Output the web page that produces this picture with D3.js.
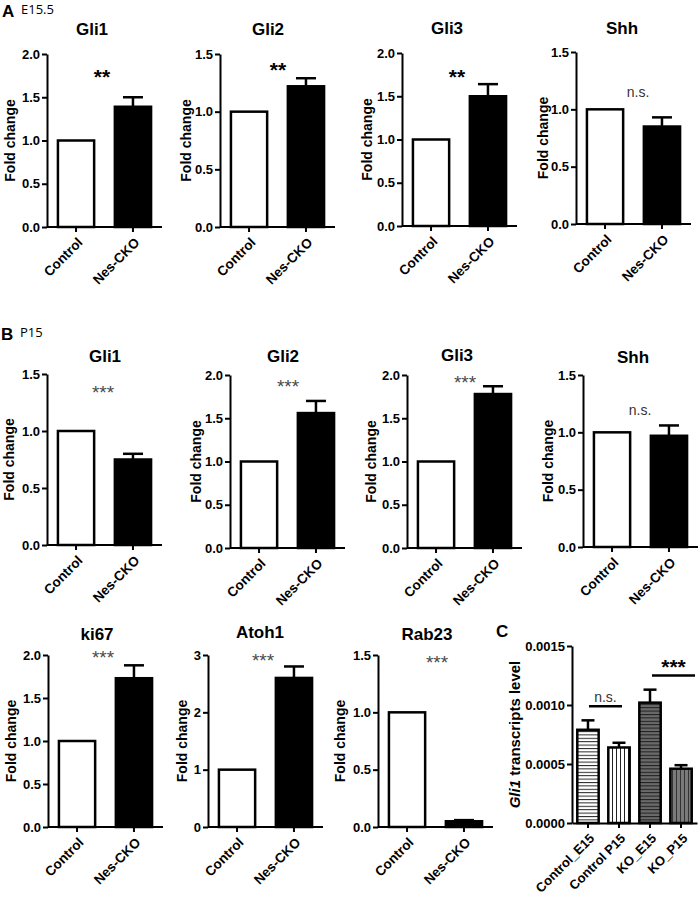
<!DOCTYPE html>
<html><head><meta charset="utf-8">
<script src="https://cdn.jsdelivr.net/npm/d3@7"></script>
<style>
body{margin:0;background:#fff}
svg{display:block}
text{font-family:"Liberation Sans",Arial,sans-serif}
</style>
</head><body>
<svg id="c" width="700" height="898"></svg>
<script>
// ---------- DATA ----------
const groups = ["Control", "Nes-CKO"];

const genesA   = ["Gli1", "Gli2", "Gli3", "Shh"];
const controlA = [1.0, 1.0, 1.0, 1.0];
const nesA     = [1.39, 1.22, 1.50, 0.85];
const nesErrA  = [0.11, 0.07, 0.14, 0.08];
const yMaxA    = [2.0, 1.5, 2.0, 1.5];
const yStepA   = [0.5, 0.5, 0.5, 0.5];
const sigA     = ["**", "**", "**", "n.s."];

const genesB   = ["Gli1", "Gli2", "Gli3", "Shh", "ki67", "Atoh1", "Rab23"];
const controlB = [1.0, 1.0, 1.0, 1.0, 1.0, 1.0, 1.0];
const nesB     = [0.75, 1.56, 1.78, 0.97, 1.73, 2.60, 0.05];
const nesErrB  = [0.05, 0.14, 0.09, 0.09, 0.15, 0.20, 0.01];
const yMaxB    = [1.5, 2.0, 2.0, 1.5, 2.0, 3, 1.5];
const yStepB   = [0.5, 0.5, 0.5, 0.5, 0.5, 1, 0.5];
const sigB     = ["***", "***", "***", "n.s.", "***", "***", "***"];

const groupsC  = ["Control_E15", "Control P15", "KO_E15", "KO_P15"];
const valuesC  = [0.00079, 0.00064, 0.00102, 0.00046];
const errC     = [0.00008, 0.00004, 0.00011, 0.00003];
const yTicksC  = [0, 0.0005, 0.0010, 0.0015];
const sigPairsC  = [[0, 1], [2, 3]];
const sigLabelsC = ["n.s.", "***"];
const sigLevelsC = [0.00099, 0.00125];

// ---------- LAYOUT (positions only) ----------
const layA = [
  {x0: 47,  yTop: 54, yBot: 227, tx: 92,  ty: 35, lx: 10,  sx: 102, sy: 71.5},
  {x0: 220, yTop: 54, yBot: 227, tx: 268, ty: 35, lx: 186, sx: 278, sy: 64},
  {x0: 402, yTop: 53, yBot: 226, tx: 447, ty: 34, lx: 367, sx: 457, sy: 71},
  {x0: 576, yTop: 52, yBot: 224, tx: 622, ty: 34, lx: 543, sx: 638, sy: 93}
];
const layB = [
  {x0: 47,  yTop: 374, yBot: 545, tx: 105, ty: 362, lx: 9,   sx: 103, sy: 388},
  {x0: 230, yTop: 375, yBot: 548, tx: 283, ty: 362, lx: 196, sx: 288, sy: 382},
  {x0: 407, yTop: 375, yBot: 548, tx: 457, ty: 361, lx: 371, sx: 465, sy: 378},
  {x0: 583, yTop: 375, yBot: 547, tx: 633, ty: 363, lx: 548, sx: 640, sy: 411},
  {x0: 48,  yTop: 655, yBot: 827, tx: 97,  ty: 640, lx: 11,  sx: 103, sy: 653},
  {x0: 208, yTop: 655, yBot: 827, tx: 260, ty: 638, lx: 182, sx: 263, sy: 656},
  {x0: 378, yTop: 655, yBot: 827, tx: 427, ty: 640, lx: 340, sx: 437, sy: 658}
];
const AXW = 115;

const svg = d3.select("#c");
svg.append("rect").attr("width", 700).attr("height", 898).attr("fill", "#fff");

function styleAxis(ax) {
  ax.select(".domain").attr("stroke", "#000").attr("stroke-width", 2);
  ax.selectAll(".tick line").attr("stroke", "#000").attr("stroke-width", 2);
  ax.selectAll(".tick text").attr("fill", "#000")
    .style("font-family", '"Liberation Sans",Arial,sans-serif')
    .style("font-weight", "bold").style("font-size", "13px");
}

function sigText(g, label, cx, cy, style) {
  const star = label.indexOf("*") >= 0;
  let fs, fw, fill;
  if (!star) { fs = 14; fw = "normal"; fill = "#333"; }
  else if (style === "bold") { fs = 21; fw = "bold"; fill = "#000"; }
  else { fs = 19; fw = "normal"; fill = "#4a4a4a"; }
  const base = star ? cy + 0.6 * fs : cy + 0.27 * fs;
  g.append("text").attr("x", cx).attr("y", base).attr("text-anchor", "middle")
    .style("font-size", fs + "px").style("font-weight", fw).attr("fill", fill)
    .text(label);
}

function barChart(gene, ctrl, nes, err, yMax, step, sig, L, sigStyle) {
  const g = svg.append("g");
  const x = d3.scaleBand().domain(groups).range([L.x0, L.x0 + AXW])
    .paddingInner(0.32).paddingOuter(0.17);
  const y = d3.scaleLinear().domain([0, yMax]).range([L.yBot, L.yTop]);
  const ticks = d3.range(0, yMax + step / 2, step);
  const fmt = step < 1 ? d3.format(".1f") : d3.format("d");
  const vals = [ctrl, nes];

  g.selectAll("rect.bar").data(groups).join("rect").attr("class", "bar")
    .attr("x", d => x(d) + 1.25).attr("width", x.bandwidth() - 2.5)
    .attr("y", (d, i) => y(vals[i])).attr("height", (d, i) => L.yBot - y(vals[i]))
    .attr("fill", (d, i) => i === 0 ? "#fff" : "#000")
    .attr("stroke", "#000").attr("stroke-width", 2.5);

  const cx = x(groups[1]) + x.bandwidth() / 2;
  g.append("line").attr("x1", cx).attr("x2", cx)
    .attr("y1", y(nes)).attr("y2", y(nes + err))
    .attr("stroke", "#000").attr("stroke-width", 2.5);
  g.append("line").attr("x1", cx - 10).attr("x2", cx + 10)
    .attr("y1", y(nes + err)).attr("y2", y(nes + err))
    .attr("stroke", "#000").attr("stroke-width", 2.5);

  const ya = g.append("g").attr("transform", `translate(${L.x0},0)`)
    .call(d3.axisLeft(y).tickValues(ticks).tickFormat(fmt).tickSize(5).tickSizeOuter(0).tickPadding(2));
  styleAxis(ya);
  const xa = g.append("g").attr("transform", `translate(0,${L.yBot})`)
    .call(d3.axisBottom(x).tickSize(5).tickSizeOuter(0));
  styleAxis(xa);
  xa.select(".domain").attr("d", `M${L.x0},0H${L.x0 + AXW}`);
  xa.selectAll(".tick text").attr("x", 0).attr("y", 0).attr("dy", "0.35em")
    .style("font-size", "13.5px")
    .attr("text-anchor", "end").attr("transform", "translate(4,13) rotate(-45)");

  g.append("text").attr("x", L.tx).attr("y", L.ty).attr("text-anchor", "middle")
    .style("font-size", "17px").style("font-weight", "bold").text(gene);
  g.append("text").attr("transform", `translate(${L.lx},${(L.yTop + L.yBot) / 2}) rotate(-90)`)
    .attr("text-anchor", "middle").attr("dy", "0.35em")
    .style("font-size", "14px").style("font-weight", "bold").text("Fold change");
  sigText(g, sig, L.sx, L.sy, sigStyle);
}

genesA.forEach((gname, i) => barChart(gname, controlA[i], nesA[i], nesErrA[i], yMaxA[i], yStepA[i], sigA[i], layA[i], "bold"));
genesB.forEach((gname, i) => barChart(gname, controlB[i], nesB[i], nesErrB[i], yMaxB[i], yStepB[i], sigB[i], layB[i], "light"));

function panelLabel(letter, sub, x, y) {
  svg.append("text").attr("x", x).attr("y", y).style("font-size", "17px")
    .style("font-weight", "bold").text(letter);
  if (sub) svg.append("text").attr("x", x + 19).attr("y", y - 3)
    .style("font-family", '"Open Sans",sans-serif').style("font-size", "13px").text(sub);
}
panelLabel("A", "E15.5", 2, 17);
panelLabel("B", "P15", 1, 340);
panelLabel("C", null, 496, 637);

// ---------- PANEL C ----------
const defs = svg.append("defs");
function stripes(id, bg, fg, horiz, sp) {
  const p = defs.append("pattern").attr("id", id).attr("patternUnits", "userSpaceOnUse")
    .attr("width", horiz ? 8 : sp).attr("height", horiz ? sp : 8);
  p.append("rect").attr("width", 8).attr("height", 8).attr("fill", bg);
  if (horiz) p.append("line").attr("x1", 0).attr("x2", 8).attr("y1", 0.5).attr("y2", 0.5).attr("stroke", fg).attr("stroke-width", 1);
  else p.append("line").attr("y1", 0).attr("y2", 8).attr("x1", 0.5).attr("x2", 0.5).attr("stroke", fg).attr("stroke-width", 1);
}
stripes("pC0", "#fff", "#222", true, 3.4);
stripes("pC1", "#fff", "#222", false, 4);
stripes("pC2", "#6a6a6a", "#1e1e1e", true, 3.4);
stripes("pC3", "#7a7a7a", "#333", false, 4);

const LC = {x0: 572, x1: 697, yTop: 646, yBot: 823};
const gc = svg.append("g");
const xc = d3.scaleBand().domain(groupsC).range([LC.x0, LC.x1]).paddingInner(0.23).paddingOuter(0.13);
const yc = d3.scaleLinear().domain([0, 0.0015]).range([LC.yBot, LC.yTop]);

gc.selectAll("rect.cb").data(groupsC).join("rect").attr("class", "cb")
  .attr("x", d => xc(d) + 1.25).attr("width", xc.bandwidth() - 2.5)
  .attr("y", (d, i) => yc(valuesC[i])).attr("height", (d, i) => LC.yBot - yc(valuesC[i]))
  .attr("fill", (d, i) => `url(#pC${i})`).attr("stroke", "#000").attr("stroke-width", 2.5);
groupsC.forEach((d, i) => {
  const cx = xc(d) + xc.bandwidth() / 2;
  gc.append("line").attr("x1", cx).attr("x2", cx).attr("y1", yc(valuesC[i])).attr("y2", yc(valuesC[i] + errC[i]))
    .attr("stroke", "#000").attr("stroke-width", 2.5);
  gc.append("line").attr("x1", cx - 6.5).attr("x2", cx + 6.5).attr("y1", yc(valuesC[i] + errC[i])).attr("y2", yc(valuesC[i] + errC[i]))
    .attr("stroke", "#000").attr("stroke-width", 2.5);
});
const yca = gc.append("g").attr("transform", `translate(${LC.x0},0)`)
  .call(d3.axisLeft(yc).tickValues(yTicksC).tickFormat(d3.format(".4f")).tickSize(5).tickSizeOuter(0).tickPadding(2));
styleAxis(yca);
const xca = gc.append("g").attr("transform", `translate(0,${LC.yBot})`)
  .call(d3.axisBottom(xc).tickSize(5).tickSizeOuter(0));
styleAxis(xca);
xca.selectAll(".tick text").attr("x", 0).attr("y", 0).attr("dy", "0.35em")
  .attr("text-anchor", "end").style("font-size", "13px").attr("transform", "translate(4,13) rotate(-45)");

const sigExt = [[1, 3], [2, 14]];
sigPairsC.forEach((pr, k) => {
  const xa = xc(groupsC[pr[0]]) + xc.bandwidth() / 2 + sigExt[k][0];
  const xb = xc(groupsC[pr[1]]) + xc.bandwidth() / 2 + sigExt[k][1];
  const yy = yc(sigLevelsC[k]);
  gc.append("line").attr("x1", xa).attr("x2", xb).attr("y1", yy).attr("y2", yy)
    .attr("stroke", "#000").attr("stroke-width", 2.5);
  const star = sigLabelsC[k].indexOf("*") >= 0;
  gc.append("text").attr("x", (xa + xb) / 2).attr("y", star ? yy - 2 : yy - 4)
    .attr("text-anchor", "middle")
    .style("font-size", star ? "21px" : "14px").style("font-weight", star ? "bold" : "normal")
    .attr("fill", star ? "#000" : "#333").text(sigLabelsC[k]);
});
const ylab = gc.append("text").attr("transform", `translate(515,${(LC.yTop + LC.yBot) / 2}) rotate(-90)`)
  .attr("text-anchor", "middle").attr("dy", "0.35em")
  .style("font-size", "15px").style("font-weight", "bold");
ylab.append("tspan").style("font-style", "italic").text("Gli1");
ylab.append("tspan").text(" transcripts level");
</script>
</body></html>
